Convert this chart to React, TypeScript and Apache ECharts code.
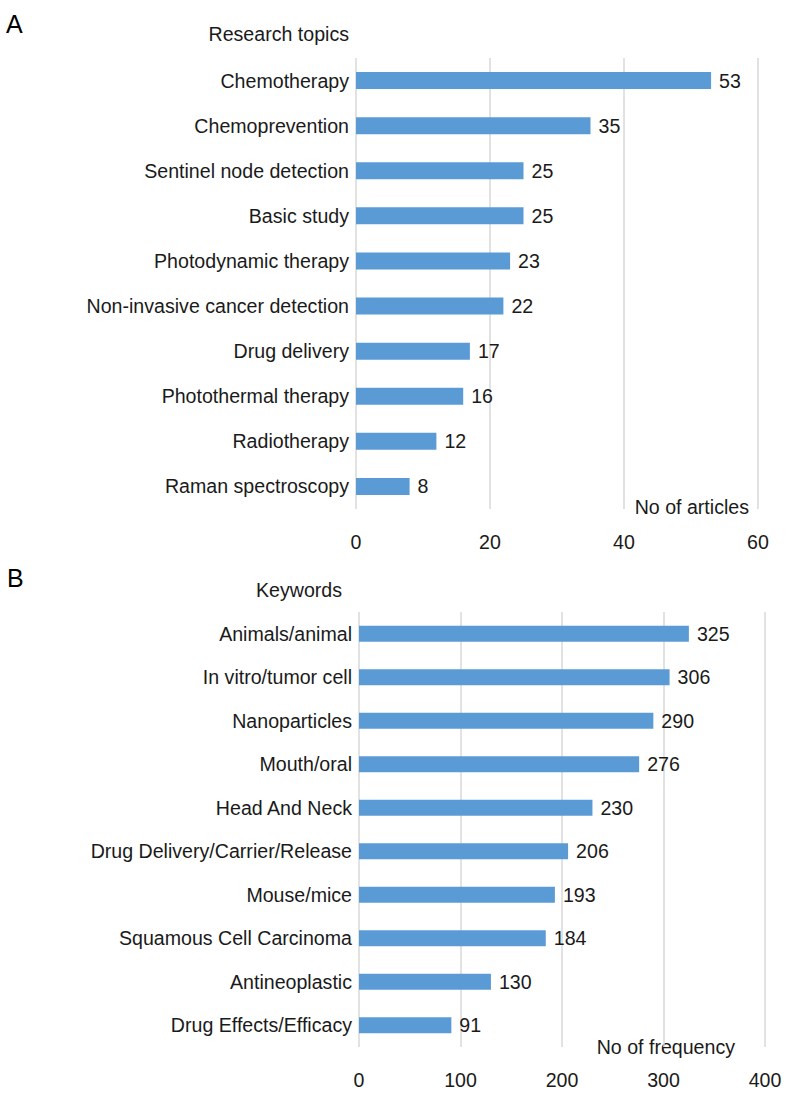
import React, { useEffect, useRef } from "react";
import * as echarts from "echarts";

const topicCategories = [
  "Chemotherapy",
  "Chemoprevention",
  "Sentinel node detection",
  "Basic study",
  "Photodynamic therapy",
  "Non-invasive cancer detection",
  "Drug delivery",
  "Photothermal therapy",
  "Radiotherapy",
  "Raman spectroscopy",
];
const topicValues = [53, 35, 25, 25, 23, 22, 17, 16, 12, 8];

const keywordCategories = [
  "Animals/animal",
  "In vitro/tumor cell",
  "Nanoparticles",
  "Mouth/oral",
  "Head And Neck",
  "Drug Delivery/Carrier/Release",
  "Mouse/mice",
  "Squamous Cell Carcinoma",
  "Antineoplastic",
  "Drug Effects/Efficacy",
];
const keywordValues = [325, 306, 290, 276, 230, 206, 193, 184, 130, 91];

const FONT = "Liberation Sans";
const TEXT = "#1a1a1a";
const BAR = "#5b9bd5";
const GRID = "#d9d9d9";
const FS = 19.6;

export default function App() {
  const ref = useRef<HTMLDivElement>(null);
  useEffect(() => {
    if (!ref.current) return;
    const chart = echarts.init(ref.current, undefined, { renderer: "svg" });
    const catAxis = (idx: number, data: string[]) => ({
      type: "category",
      gridIndex: idx,
      data: data,
      inverse: true,
      axisLine: { show: false },
      axisTick: { show: false },
      axisLabel: { fontFamily: FONT, fontSize: FS, color: TEXT, margin: 7 },
    });
    const valAxis = (idx: number, max: number, interval: number) => ({
      type: "value",
      gridIndex: idx,
      min: 0,
      max,
      interval,
      axisLine: { show: false },
      axisTick: { show: false },
      splitLine: { show: true, lineStyle: { color: GRID, width: 1.5 } },
      axisLabel: { fontFamily: FONT, fontSize: FS, color: TEXT, margin: 23 },
    });
    const barSeries = (idx: number, data: number[], w: number) => ({
      type: "bar",
      xAxisIndex: idx,
      yAxisIndex: idx,
      data,
      barWidth: w,
      itemStyle: { color: BAR },
      label: {
        show: true,
        position: "right",
        distance: 8,
        fontFamily: FONT,
        fontSize: FS,
        color: TEXT,
      },
    });
    chart.setOption({
      animation: false,
      backgroundColor: "#fff",
      grid: [
        { left: 356, right: 37, top: 58, height: 451 },
        { left: 359, right: 30, top: 612, height: 435 },
      ],
      xAxis: [valAxis(0, 60, 20), valAxis(1, 400, 100)],
      yAxis: [catAxis(0, topicCategories), catAxis(1, keywordCategories)],
      series: [barSeries(0, topicValues, 17), barSeries(1, keywordValues, 16)],
      graphic: [
        { type: "text", left: 6, top: 11, style: { text: "A", fontFamily: FONT, fontSize: 25, fill: "#000" } },
        { type: "text", right: 446, top: 24, style: { text: "Research topics", fontFamily: FONT, fontSize: FS, fill: TEXT } },
        { type: "text", right: 44, top: 496, style: { text: "No of articles", fontFamily: FONT, fontSize: FS, fill: TEXT, backgroundColor: "#fff", padding: [1, 2] } },
        { type: "text", left: 7, top: 565, style: { text: "B", fontFamily: FONT, fontSize: 25, fill: "#000" } },
        { type: "text", right: 453, top: 580, style: { text: "Keywords", fontFamily: FONT, fontSize: FS, fill: TEXT } },
        { type: "text", right: 58, top: 1036, style: { text: "No of frequency", fontFamily: FONT, fontSize: FS, fill: TEXT, backgroundColor: "#fff", padding: [1, 2] } },
      ],
    });
    return () => chart.dispose();
  }, []);
  return (
    <div
      ref={ref}
      style={{ position: "fixed", left: 0, top: 0, width: 795, height: 1094 }}
    />
  );
}
